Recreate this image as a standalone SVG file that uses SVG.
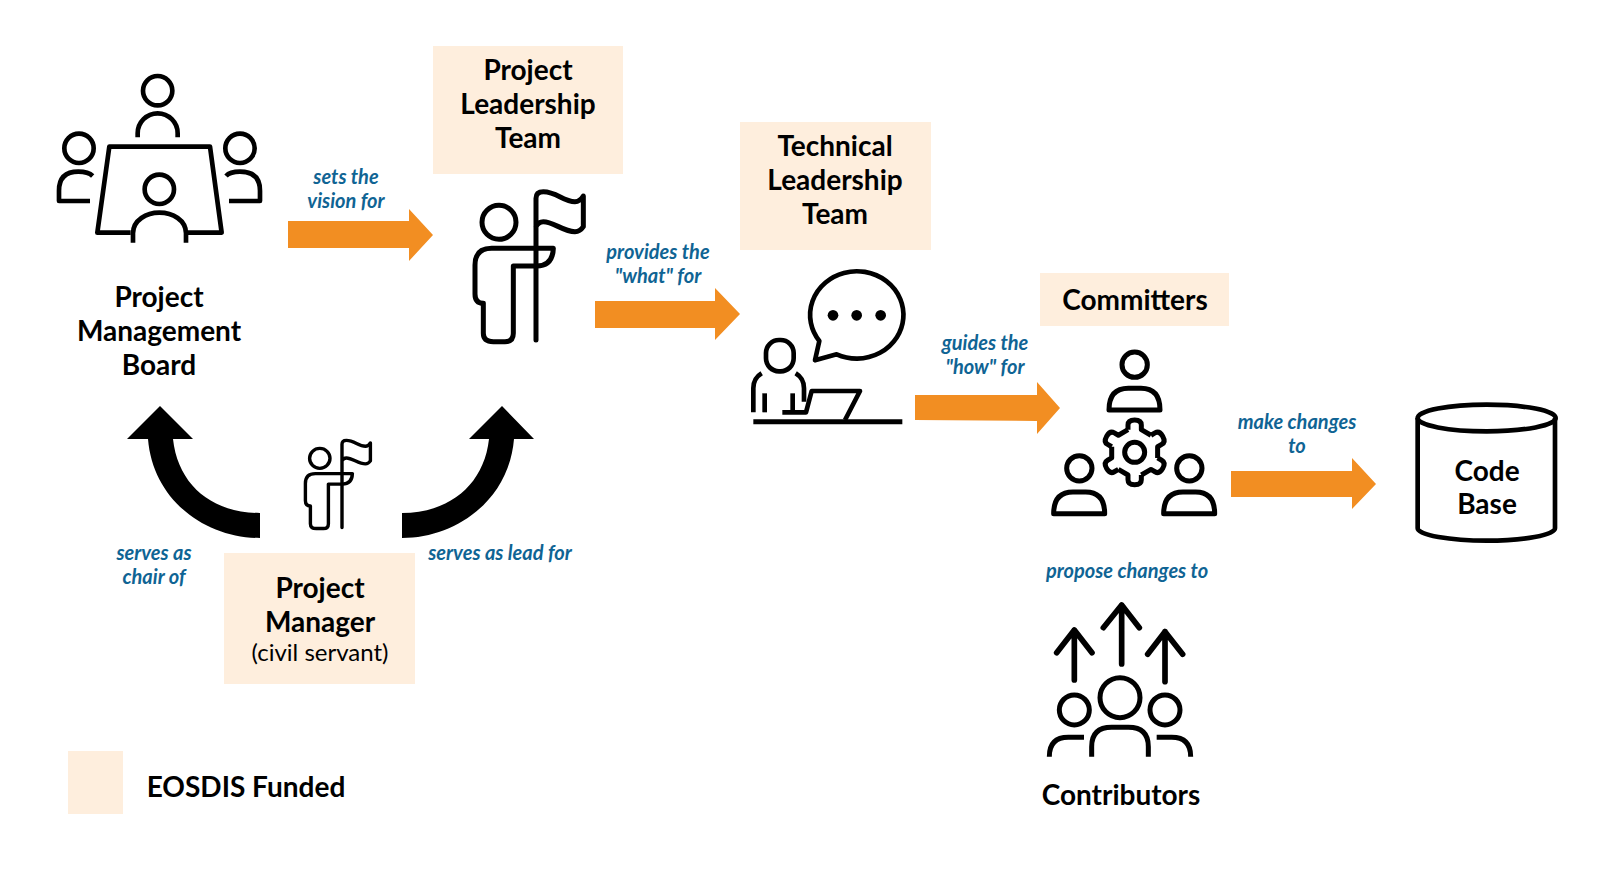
<svg xmlns="http://www.w3.org/2000/svg" width="1600" height="869" viewBox="0 0 1600 869">
<style>
.box{fill:#feeedd}
.ic{fill:none;stroke:#000;stroke-linejoin:round}
.t{font-family:"Lato","Liberation Sans",sans-serif;font-size:28px;font-weight:700;fill:#000;text-anchor:middle}
.s{font-size:24px}
.l{font-family:"Lato","Liberation Sans",sans-serif;font-size:20px;font-weight:700;font-style:italic;fill:#0f6494;text-anchor:middle}
.oa{fill:#f28e22}
</style>
<defs>
<g id="flagman">
<circle cx="147" cy="157" r="51"/>
<path d="M310,235 H125 Q75,235 75,285 V372 Q75,400 100,400 V490 Q100,515 130,515 H165 Q190,515 190,490 V288 H260 Q308,288 310,235 Z"/>
<path stroke-linecap="round" d="M258,510 V85 Q258,65 280,65 C320,65 340,95 375,95 Q390,95 400,78 V170 Q390,185 375,185 C340,185 310,155 280,155 Q265,155 258,170"/>
</g>
<g id="person4">
<circle cx="284" cy="74" r="38"/>
<path d="M207,210 Q207,145 265,145 H303 Q360,145 360,210 Z"/>
</g>
<path id="tooth" d="M-20,-68 V-82 Q-20,-97 0,-97 Q20,-97 20,-82 V-68 L48.9,-51.3"/>
</defs>

<g id="connectors">
<path class="oa" d="M288,221 H409 V209 L433,235 L409,261 V248 H288 Z"/>
<path class="oa" d="M595,301 H715 V288 L740,314 L715,340 V328 H595 Z"/>
<path class="oa" d="M915,395 H1037 V382 L1060,408 L1037,434 V421 L915,420 Z"/>
<path class="oa" d="M1231,471 H1352 V458 L1376,484 L1352,509 V497 H1231 Z"/>
<path d="M260,513 C212,513 178,485 173,439 H193 L160,406 L127,439 H148 C153,500 205,538 260,538 Z"/>
<path d="M402,513 C449,513 484,485 489,439 H469 L502,406 L534,439 H514 C509,500 456,538 402,538 Z"/>
</g>

<g id="pmb">
<g class="ic" stroke-width="14" transform="translate(40,50) scale(.33333)">
<circle cx="353" cy="122" r="44"/>
<path d="M293,262 V250 A60,60 0 0 1 413,250 V262"/>
<circle cx="117" cy="295" r="44"/>
<path d="M158,378 Q145,365 115,365 Q57,365 57,422 V453 H150"/>
<circle cx="600" cy="295" r="44"/>
<path d="M558,378 Q570,365 600,365 Q660,365 660,422 V453 H567"/>
<path d="M272,548 H172 L208,290 H510 L545,548 H440"/>
<circle cx="358" cy="418" r="44"/>
<path d="M279,578 V550 C279,510 320,488 358,488 C398,488 438,510 438,550 V578"/>
</g>
<text class="t" x="159" y="307">Project</text>
<text class="t" x="159" y="341">Management</text>
<text class="t" x="159" y="375">Board</text>
</g>

<g id="plt">
<rect class="box" x="433" y="46" width="190" height="128"/>
<text class="t" x="528" y="80">Project</text>
<text class="t" x="528" y="114">Leadership</text>
<text class="t" x="528" y="148">Team</text>
<use href="#flagman" class="ic" stroke-width="15" transform="translate(450,170) scale(.33333)"/>
</g>

<g id="tlt">
<rect class="box" x="740" y="122" width="191" height="128"/>
<text class="t" x="835" y="156">Technical</text>
<text class="t" x="835" y="190">Leadership</text>
<text class="t" x="835" y="224">Team</text>
<g class="ic" stroke-width="14" transform="translate(730,255) scale(.33333)">
<path d="M268,258 L255,316 L320,298 A140,131 0 1 0 268,258 Z"/>
<circle cx="309" cy="181" r="16" fill="#000" stroke="none"/>
<circle cx="380" cy="181" r="16" fill="#000" stroke="none"/>
<circle cx="452" cy="181" r="16" fill="#000" stroke="none"/>
<rect x="108" y="255" width="83" height="94" rx="39"/>
<path d="M95,355 Q70,370 70,400 V472"/>
<path d="M104,415 V472"/>
<path d="M197,355 Q222,370 222,400 V440"/>
<path d="M188,415 V472"/>
<path d="M157,472 H228 L245,408 H390 L345,495"/>
<path d="M70,500 H517" stroke-width="15"/>
</g>
</g>

<g id="committers">
<rect class="box" x="1040" y="273" width="189" height="53"/>
<text class="t" x="1135" y="310">Committers</text>
<g class="ic" stroke-width="15" transform="translate(1040,340) scale(.33333)">
<use href="#person4"/>
<use href="#person4" transform="translate(-166,311)"/>
<use href="#person4" transform="translate(164,311)"/>
<circle cx="284" cy="337" r="30"/>
<g transform="translate(284,337)">
<use href="#tooth"/>
<use href="#tooth" transform="rotate(60)"/>
<use href="#tooth" transform="rotate(120)"/>
<use href="#tooth" transform="rotate(180)"/>
<use href="#tooth" transform="rotate(240)"/>
<use href="#tooth" transform="rotate(300)"/>
</g>
</g>
</g>

<g id="contributors">
<g class="ic" stroke-width="15" transform="translate(1040,590) scale(.33333)">
<path stroke-width="17" d="M245,222 V45 M190,113 L245,45 L298,113" stroke-linecap="round"/>
<path stroke-width="17" d="M103,270 V120 M50,188 L103,120 L156,188" stroke-linecap="round"/>
<path stroke-width="17" d="M375,275 V125 M323,193 L375,125 L428,193" stroke-linecap="round"/>
<circle cx="240" cy="323" r="60"/>
<circle cx="103" cy="360" r="45"/>
<circle cx="375" cy="360" r="45"/>
<path d="M155,500 V470 Q155,412 215,412 H265 Q325,412 325,470 V500"/>
<path d="M28,500 Q28,442 85,442 H132"/>
<path d="M350,442 H395 Q452,442 452,500"/>
</g>
<text class="t" x="1121" y="805">Contributors</text>
</g>

<g id="codebase">
<g class="ic" stroke-width="14" transform="translate(1400,390) scale(.33333)">
<ellipse cx="260" cy="84" rx="207" ry="40"/>
<path d="M53,84 V415 C53,435 150,452 260,452 C370,452 465,435 465,415 V84"/>
</g>
<text class="t" x="1487" y="481">Code</text>
<text class="t" x="1487" y="514">Base</text>
</g>

<g id="pm">
<use href="#flagman" class="ic" stroke-width="17" transform="translate(290.4,427.6) scale(.2,.196)"/>
<rect class="box" x="224" y="553" width="191" height="131"/>
<text class="t" x="320" y="598">Project</text>
<text class="t" x="320" y="632">Manager</text>
<text class="t s" x="320" y="661" style="font-weight:400">(civil servant)</text>
</g>

<g id="legend">
<rect class="box" x="68" y="751" width="55" height="63"/>
<text class="t" x="246" y="797">EOSDIS Funded</text>
</g>

<g id="labels">
<text class="l" x="346" y="184">sets the</text>
<text class="l" x="346" y="208">vision for</text>
<text class="l" x="658" y="259">provides the</text>
<text class="l" x="658" y="283">"what" for</text>
<text class="l" x="985" y="350">guides the</text>
<text class="l" x="985" y="374">"how" for</text>
<text class="l" x="1297" y="429">make changes</text>
<text class="l" x="1297" y="453">to</text>
<text class="l" x="154" y="560">serves as</text>
<text class="l" x="154" y="584">chair of</text>
<text class="l" x="500" y="560">serves as lead for</text>
<text class="l" x="1127" y="578">propose changes to</text>
</g>
</svg>
